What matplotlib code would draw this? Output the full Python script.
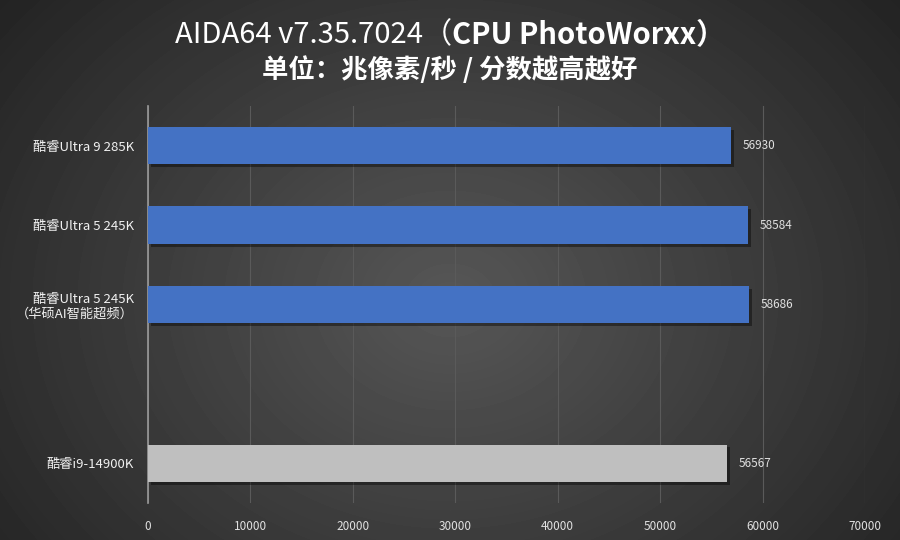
import numpy as np
import matplotlib
matplotlib.use('Agg')
import matplotlib.pyplot as plt
import matplotlib.patheffects as pe

plt.rcParams['font.family'] = ['Noto Sans CJK SC', 'DejaVu Sans']

#%% data
labels = ['酷睿Ultra 9 285K', '酷睿Ultra 5 245K', '酷睿Ultra 5 245K\n（华硕AI智能超频）', '', '酷睿i9-14900K']
values = [56930, 58584, 58686, None, 56567]
colors = ['#4472c4', '#4472c4', '#4472c4', None, '#bfbfbf']
xticks = [0, 10000, 20000, 30000, 40000, 50000, 60000, 70000]

fig = plt.figure(figsize=(9, 5.4), dpi=100)

#%% radial gradient background
bg = fig.add_axes([0, 0, 1, 1], zorder=-10)
yy, xx = np.mgrid[0:540, 0:900]
r = np.sqrt(((xx - 450) / 520.0) ** 2 + ((yy - 300) / 420.0) ** 2)
shade = np.clip(0.34 - 0.18 * r, 0.13, 0.34)
bg.imshow(shade, cmap='gray', vmin=0, vmax=1, aspect='auto', extent=[0, 1, 0, 1])
bg.axis('off')

ax = fig.add_axes([148 / 900, 1 - 503 / 540, 717 / 900, 397 / 540])
ax.set_facecolor('none')

y = np.arange(len(labels))
for i, v in enumerate(values):
    if v is None:
        continue
    b = ax.barh(y[i], v, height=0.47, color=colors[i], zorder=3)
    b[0].set_path_effects([pe.SimplePatchShadow(offset=(2, -2), shadow_rgbFace='black', alpha=0.4), pe.Normal()])
    ax.text(v + 1100, y[i], str(v), va='center', ha='left', color='#e0e0e0', fontsize=8.5)

ax.set_ylim(len(labels) - 0.5, -0.5)
ax.set_xlim(0, 70000)
ax.set_xticks(xticks)
ax.set_xticklabels([str(t) for t in xticks], color='#e0e0e0', fontsize=8.5)
ax.set_yticks(y)
ax.set_yticklabels(labels, color='#f0f0f0', fontsize=9.5)
ax.tick_params(axis='both', length=0)
ax.tick_params(axis='x', pad=12)
ax.tick_params(axis='y', pad=10)
ax.grid(axis='x', color='#5a5a5a', linewidth=0.8, zorder=0)
for s in ['top', 'right', 'bottom']:
    ax.spines[s].set_visible(False)
ax.spines['left'].set_color('#9a9a9a')
ax.spines['left'].set_linewidth(1.2)

#%% titles: normal part + bold part, centred together
renderer = fig.canvas.get_renderer()
ty = 1 - 35 / 540
t1 = fig.text(0, ty, 'AIDA64 v7.35.7024（', ha='left', va='center', color='white', fontsize=21)
t2 = fig.text(0, ty, 'CPU PhotoWorxx）', ha='left', va='center', color='white', fontsize=21, fontweight='bold')
w1 = t1.get_window_extent(renderer).width / 900
w2 = t2.get_window_extent(renderer).width / 900
x0 = 0.5 - (w1 + w2) / 2
t1.set_x(x0)
t2.set_x(x0 + w1)
fig.text(0.5, 1 - 70 / 540, '单位：兆像素/秒 / 分数越高越好', ha='center', va='center',
         color='white', fontsize=19, fontweight='bold')

fig.savefig('out.png', dpi=100)
